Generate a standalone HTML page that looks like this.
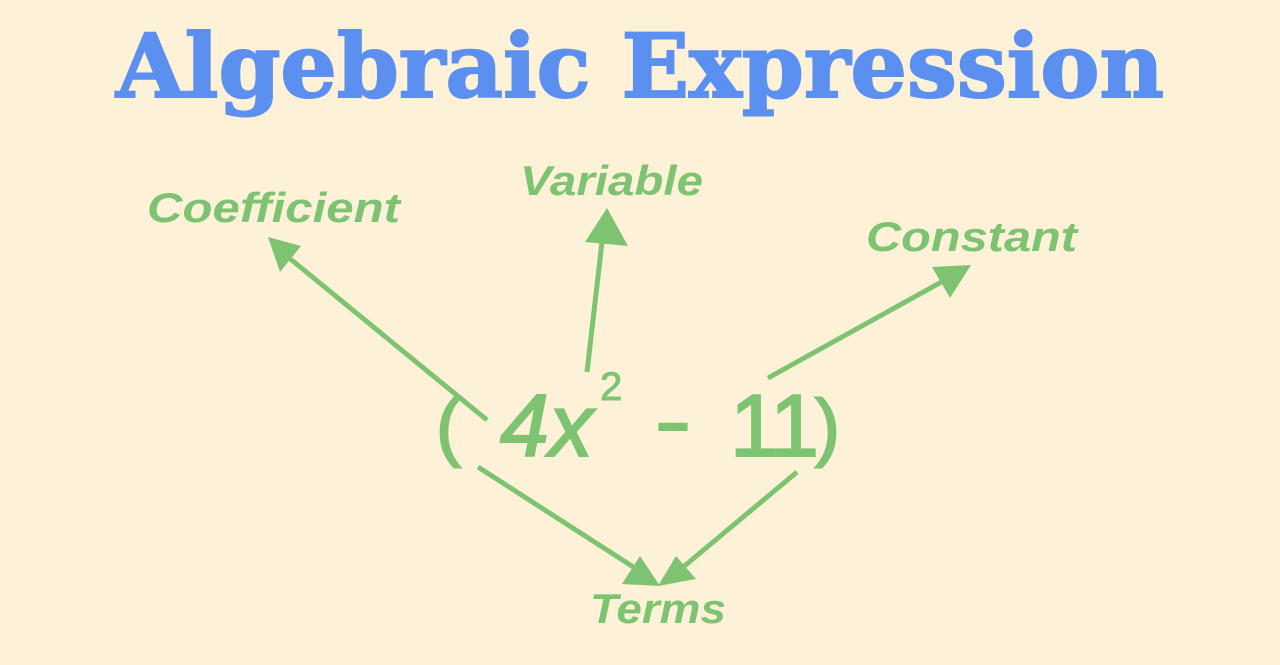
<!DOCTYPE html>
<html><head><meta charset="utf-8"><style>
html,body{margin:0;padding:0;background:#fdf2d8;}
svg{display:block}
.l{font-family:"Liberation Sans",sans-serif;font-style:italic;font-weight:bold;fill:#7dc372;}
.e{font-family:"Liberation Sans",sans-serif;fill:#7dc372;}
</style></head><body>
<svg width="1280" height="665" viewBox="0 0 1280 665" xmlns="http://www.w3.org/2000/svg">
<rect width="1280" height="665" fill="#fdf2d8"/>
<text x="640" y="97" text-anchor="middle" font-family="DejaVu Serif, Liberation Serif, serif" font-weight="bold" font-size="88" fill="#5b8ff0" stroke="#5b8ff0" stroke-width="2" textLength="1048" lengthAdjust="spacingAndGlyphs">Algebraic Expression</text>
<g stroke="#7dc372" stroke-width="5" stroke-linecap="butt" fill="none">
<line x1="487" y1="420" x2="288" y2="257"/>
<line x1="587" y1="372" x2="602" y2="242"/>
<line x1="768" y1="378" x2="945" y2="280"/>
<line x1="478" y1="467" x2="638" y2="570"/>
<line x1="797" y1="472" x2="682" y2="568"/>
</g>
<g fill="#7dc372">
<polygon points="268,237 301,246 280,272"/>
<polygon points="607,208 628,246 585,242"/>
<polygon points="971,265 950,298 932,267"/>
<polygon points="660,586 622,584 640,556"/>
<polygon points="658,586 676,556 696,579"/>
</g>
<text class="l" x="147" y="222" font-size="42" textLength="253" lengthAdjust="spacingAndGlyphs">Coefficient</text>
<text class="l" x="520" y="195" font-size="42" textLength="183" lengthAdjust="spacingAndGlyphs">Variable</text>
<text class="l" x="866" y="251" font-size="42" textLength="211" lengthAdjust="spacingAndGlyphs">Constant</text>
<text class="l" x="590" y="623" font-size="42" textLength="136" lengthAdjust="spacingAndGlyphs">Terms</text>
<text class="e" x="436" y="452" font-size="75" stroke="#7dc372" stroke-width="2">(</text>
<text class="e" x="500" y="456" font-size="88" font-style="italic" stroke="#7dc372" stroke-width="2">4x</text>
<text class="e" x="600" y="400" font-size="40" stroke="#7dc372" stroke-width="1">2</text>
<text class="e" x="655" y="448" font-size="80" stroke="#7dc372" stroke-width="2" textLength="36" lengthAdjust="spacingAndGlyphs">-</text>
<text class="e" x="730" y="456" font-size="88" stroke="#7dc372" stroke-width="2">1<tspan x="770">1</tspan></text>
<text class="e" x="815" y="452" font-size="75" stroke="#7dc372" stroke-width="2">)</text>
</svg>
</body></html>
